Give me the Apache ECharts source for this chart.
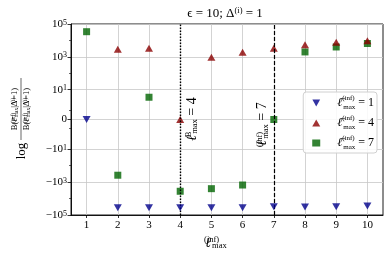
<!DOCTYPE html>
<html><head><meta charset="utf-8">
<script src="https://cdn.jsdelivr.net/npm/echarts@6/dist/echarts.min.js"></script>
<style>html,body{margin:0;padding:0;background:#fff}#c{width:390px;height:261px}</style>
</head><body><div id="c"></div>
<script>
// ---- data ----
const xValues = [1, 2, 3, 4, 5, 6, 7, 8, 9, 10];
const legendNames = ['1', '4', '7'];
const ell1 = [0, -36000, -36000, -36000, -36000, -36000, -31000, -33000, -31000, -28000];
const ell4 = [null, 2900, 3400, 0, 960, 1900, 3400, 5400, 7800, 9500];
const ell7 = [34000, -380, 3.5, -3600, -2500, -1500, 0, 2000, 4000, 6500];
const yMajorValues = [-1e5, -1e3, -10, 0, 10, 1e3, 1e5];
const yMajorLabels = ['−10{sp|5}', '−10{sp|3}', '−10{sp|1}', '0', '10{sp|1}', '10{sp|3}', '10{sp|5}'];
const yMinorValues = [-1e4, -100, -1, 1, 100, 1e4];
const vLineX = [4, 7];

// ---- symlog scale (linthresh 2, linscale 1, base 10) ----
const LT = 2, LS = 1 / (1 - 1 / 10);
function symlog(v) {
  if (v == null) return null;
  const a = Math.abs(v), s = Math.sign(v);
  return a <= LT ? s * a * LS / LT : s * (LS + Math.log10(a / LT));
}
const YMAX = symlog(1e5);
const FF = '"Liberation Serif","DejaVu Serif",serif';
const EF = '"DejaVu Serif",serif';
const mkData = arr => xValues.map((x, i) => [x, symlog(arr[i])]).filter(p => p[1] != null);
const richBase = {
  sp: { fontSize: 8, fontFamily: FF, verticalAlign: 'top', lineHeight: 8 },
  sb: { fontSize: 8, fontFamily: FF, verticalAlign: 'bottom', lineHeight: 8 }
};
const triDown = 'path://M0,0 L10,0 L5,9 Z';

const chart = echarts.init(document.getElementById('c'), null, { renderer: 'canvas' });
const majorT = yMajorValues.map(symlog);
const minorT = yMinorValues.map(symlog);

const option = {
  animation: false,
  grid: { left: 71, right: 7, top: 24, bottom: 46, show: true, borderColor: '#000', borderWidth: 0.9, containLabel: false },
  legend: {
    orient: 'vertical', right: 13, top: 92, data: legendNames,
    backgroundColor: 'rgba(255,255,255,0.85)', borderColor: '#d0d0d0', borderWidth: 1, borderRadius: 3,
    padding: [3, 3, 2, 9], itemGap: 4, itemWidth: 8, itemHeight: 7,
    formatter: n => '{el|ℓ̄}{sp|(inf)}{sb|max} = ' + n,
    textStyle: {
      fontFamily: FF, fontSize: 12, color: '#000', lineHeight: 16,
      rich: {
        el: { fontSize: 12, fontFamily: EF, fontStyle: 'italic', lineHeight: 16, padding: [0, 0, 0, 12] },
        sp: { fontSize: 7, fontFamily: FF, verticalAlign: 'top', lineHeight: 7, width: 1 },
        sb: { fontSize: 7, fontFamily: FF, verticalAlign: 'bottom', lineHeight: 7, width: 12 }
      }
    }
  },
  xAxis: {
    type: 'value', min: 0.5, max: 10.5,
    axisLine: { show: true, onZero: false, lineStyle: { color: '#000', width: 0.9 } },
    axisTick: { show: true, customValues: xValues, length: 3, lineStyle: { color: '#000', width: 0.8 } },
    axisLabel: { customValues: xValues, fontFamily: FF, fontSize: 11, color: '#000', margin: 5 },
    splitLine: { show: true, lineStyle: { color: '#c8c8c8', width: 0.8 } }
  },
  yAxis: [{
    type: 'value', min: -YMAX, max: YMAX,
    axisLine: { show: true, onZero: false, lineStyle: { color: '#000', width: 0.9 } },
    axisTick: { show: true, customValues: majorT, length: 3.5, lineStyle: { color: '#000', width: 0.8 } },
    axisLabel: {
      customValues: majorT, fontFamily: FF, fontSize: 11, color: '#000', margin: 4,
      formatter: v => {
        let bi = 0;
        majorT.forEach((t, i) => { if (Math.abs(t - v) < Math.abs(majorT[bi] - v)) bi = i; });
        return yMajorLabels[bi];
      },
      rich: richBase
    },
    splitLine: { show: true, lineStyle: { color: '#c8c8c8', width: 0.8 } }
  }, {
    type: 'value', min: -YMAX, max: YMAX, position: 'left',
    axisLine: { show: false, onZero: false },
    axisTick: { show: true, customValues: minorT, length: 2, lineStyle: { color: '#000', width: 0.6 } },
    axisLabel: { show: false },
    splitLine: { show: false }
  }],
  series: [
    { name: legendNames[0], type: 'scatter', data: mkData(ell1), symbol: triDown, symbolSize: [8, 7], itemStyle: { color: '#00008b' }, z: 5 },
    { name: legendNames[1], type: 'scatter', data: mkData(ell4), symbol: 'triangle', symbolSize: [8, 7], itemStyle: { color: '#8b0000' }, z: 4 },
    { name: legendNames[2], type: 'scatter', data: mkData(ell7), symbol: 'rect', symbolSize: 7, itemStyle: { color: '#006400' }, z: 3,
      markLine: {
        silent: true, symbol: 'none', label: { show: false },
        data: [
          { xAxis: vLineX[0], lineStyle: { type: [1.5, 1.5], color: '#000', width: 1.4 } },
          { xAxis: vLineX[1], lineStyle: { type: [4, 2], color: '#000', width: 1.2 } }
        ]
      } }
  ]
};
chart.setOption(option);

const p4 = chart.convertToPixel({ gridIndex: 0 }, [vLineX[0], 0]);
const p7 = chart.convertToPixel({ gridIndex: 0 }, [vLineX[1], 0]);
const rich2 = {
  el: { fontSize: 14, fontFamily: EF, fontStyle: 'italic', lineHeight: 15 },
  sp: { fontSize: 8.5, fontFamily: FF, verticalAlign: 'top', lineHeight: 8, width: 1 },
  sb: { fontSize: 8.5, fontFamily: FF, verticalAlign: 'bottom', lineHeight: 8 }
};
const rich3 = {
  el: { fontSize: 8, fontFamily: EF, fontStyle: 'italic', lineHeight: 9 },
  sp: { fontSize: 5.5, fontFamily: FF, verticalAlign: 'top', lineHeight: 5, width: 1 },
  sb: { fontSize: 5.5, fontFamily: FF, verticalAlign: 'bottom', lineHeight: 5 }
};
chart.setOption({
  graphic: [
    { type: 'text', x: 225, y: 14, style: { text: 'ϵ = 10; Δ{sp|(i)} = 1', fontFamily: FF, fontSize: 13, fill: '#000', align: 'center', verticalAlign: 'middle', lineHeight: 15, rich: { sp: { fontSize: 8.5, fontFamily: FF, verticalAlign: 'top', lineHeight: 8 } } } },
    { type: 'text', x: 216, y: 243, style: { text: '{el|ℓ}{sp|(inf)}{sb|max}', fontFamily: FF, fontSize: 13, fill: '#000', align: 'center', verticalAlign: 'middle', lineHeight: 15, rich: rich2 } },
    { type: 'text', x: p4[0] + 12, y: 119, rotation: Math.PI / 2, style: { text: '{el|ℓ}{sp|B}{sb|max} = 4', fontFamily: FF, fontSize: 14, fill: '#000', align: 'center', verticalAlign: 'middle', lineHeight: 15, rich: rich2 } },
    { type: 'text', x: p7[0] - 11, y: 124, rotation: Math.PI / 2, style: { text: '{el|ℓ}{sp|(inf)}{sb|max} = 7', fontFamily: FF, fontSize: 14, fill: '#000', align: 'center', verticalAlign: 'middle', lineHeight: 15, rich: rich2 } },
    { type: 'group', x: 21, y: 120, rotation: Math.PI / 2, children: [
      { type: 'text', x: -31, y: 1, style: { text: 'log', fontFamily: FF, fontSize: 13, fill: '#000', align: 'center', verticalAlign: 'middle' } },
      { type: 'line', shape: { x1: -20, y1: 0, x2: 42, y2: 0 }, style: { stroke: '#000', lineWidth: 0.6 } },
      { type: 'text', x: 11, y: -1.5, style: { text: 'B({el|ℓ̄}{sp|(inf)}{sb|max}|Δ{sp|(i)}=1)', fontFamily: FF, fontSize: 8.5, fill: '#000', align: 'center', verticalAlign: 'bottom', lineHeight: 9, rich: rich3 } },
      { type: 'text', x: 11, y: 1.5, style: { text: 'B({el|ℓ}{sp|(inf)}{sb|max}|Δ{sp|(i)}=1)', fontFamily: FF, fontSize: 8.5, fill: '#000', align: 'center', verticalAlign: 'top', lineHeight: 9, rich: rich3 } }
    ] }
  ]
});
</script></body></html>
